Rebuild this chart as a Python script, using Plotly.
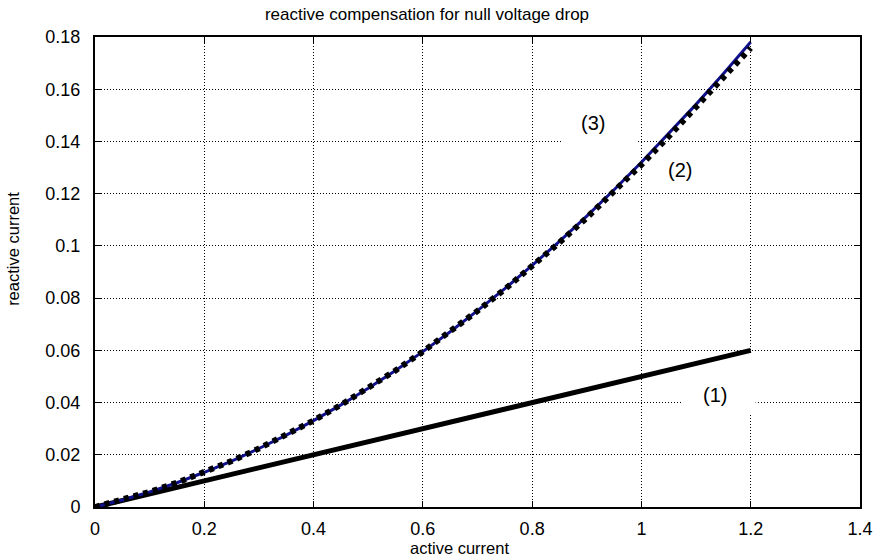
import plotly.graph_objects as go

# active current values
x = [0.0, 0.05, 0.1, 0.15, 0.2, 0.25, 0.3, 0.35, 0.4, 0.45, 0.5, 0.55, 0.6,
     0.65, 0.7, 0.75, 0.8, 0.85, 0.9, 0.95, 1.0, 1.05, 1.1, 1.15, 1.2]

# curve (1)
y1 = [0.0, 0.0025, 0.005, 0.0075, 0.01, 0.0125, 0.015, 0.0175, 0.02, 0.0225, 0.025, 0.0275, 0.03,
      0.0325, 0.035, 0.0375, 0.04, 0.0425, 0.045, 0.0475, 0.05, 0.0525, 0.055, 0.0575, 0.06]
# curve (2)
y2 = [0.0, 0.0027, 0.0058, 0.0093, 0.0133, 0.0176, 0.0224, 0.0275, 0.0331, 0.0391, 0.0455, 0.0523, 0.0595,
      0.0671, 0.0751, 0.0834, 0.0922, 0.1013, 0.1108, 0.1208, 0.1311, 0.1419, 0.153, 0.1645, 0.1758]
# curve (3)
y3 = [0.0, 0.0027, 0.0058, 0.0093, 0.0133, 0.0176, 0.0224, 0.0275, 0.0331, 0.0391, 0.0455, 0.0523, 0.0595,
      0.0671, 0.0752, 0.0836, 0.0925, 0.1017, 0.1114, 0.1215, 0.132, 0.1429, 0.1542, 0.1659, 0.1781]

xticks = [0, 0.2, 0.4, 0.6, 0.8, 1.0, 1.2, 1.4]
xticklabels = ['0', '0.2', '0.4', '0.6', '0.8', '1', '1.2', '1.4']
yticks = [0, 0.02, 0.04, 0.06, 0.08, 0.1, 0.12, 0.14, 0.16, 0.18]
yticklabels = ['0', '0.02', '0.04', '0.06', '0.08', '0.1', '0.12', '0.14', '0.16', '0.18']

font = 'Liberation Sans, Arial, sans-serif'

fig = go.Figure()
fig.add_trace(go.Scatter(x=x, y=y1, mode='lines', name='(1)',
                         line=dict(color='black', width=5)))
fig.add_trace(go.Scatter(x=x, y=y3, mode='lines', name='(3)',
                         line=dict(color='#10108c', width=3)))
fig.add_trace(go.Scatter(x=x, y=y2, mode='lines', name='(2)',
                         line=dict(color='black', width=6, dash='5px,5px')))

# white boxes behind the curve labels (hide the grid)
fig.add_shape(type='rect', x0=1.076, x1=1.209, y0=0.0352, y1=0.0582, layer='between',
              fillcolor='white', line=dict(width=0))
fig.add_shape(type='rect', x0=0.855, x1=0.99, y0=0.1367, y1=0.154, layer='between',
              fillcolor='white', line=dict(width=0))

fig.add_annotation(x=0.912, y=0.147, text='(3)', showarrow=False, font=dict(size=20, color='black'))
fig.add_annotation(x=1.071, y=0.129, text='(2)', showarrow=False, font=dict(size=20, color='black'))
fig.add_annotation(x=1.134, y=0.0429, text='(1)', showarrow=False, font=dict(size=20, color='black'))

# axis titles
fig.add_annotation(xref='paper', yref='paper', x=0.4087, y=-0.0875, xanchor='left', yanchor='middle',
                   text='active current', showarrow=False, font=dict(size=16.5, color='black'))
fig.add_annotation(xref='paper', yref='paper', x=-0.1067, y=0.55, xanchor='center', yanchor='middle',
                   text='reactive current', textangle=-90, showarrow=False,
                   font=dict(size=16.5, color='black'))

axis_style = dict(showline=True, linecolor='black', linewidth=2, mirror='ticks',
                  ticks='inside', ticklen=6, tickcolor='black', tickwidth=1,
                  showgrid=True, gridcolor='black', gridwidth=1, griddash='1px,2px',
                  zeroline=False, tickfont=dict(size=18, color='black'))

fig.update_xaxes(range=[0, 1.4], tickvals=xticks, ticktext=xticklabels,
                 ticklabelstandoff=4, **axis_style)
fig.update_yaxes(range=[0, 0.18], tickvals=yticks, ticktext=yticklabels,
                 ticklabelstandoff=9, **axis_style)

fig.update_layout(
    width=885, height=559,
    margin=dict(l=95, r=12, t=37, b=52),
    paper_bgcolor='white', plot_bgcolor='white',
    showlegend=False,
    font=dict(family=font, color='black'),
    title=dict(text='reactive compensation for null voltage drop', x=0.4825, xanchor='center',
               y=0.975, yanchor='middle', font=dict(size=17, color='black')),
)

# drop the default page margin so the figure sits at the window's corner
fig.write_html("out.html", config={'displayModeBar': False},
               post_script="document.body.style.margin='0px';")
